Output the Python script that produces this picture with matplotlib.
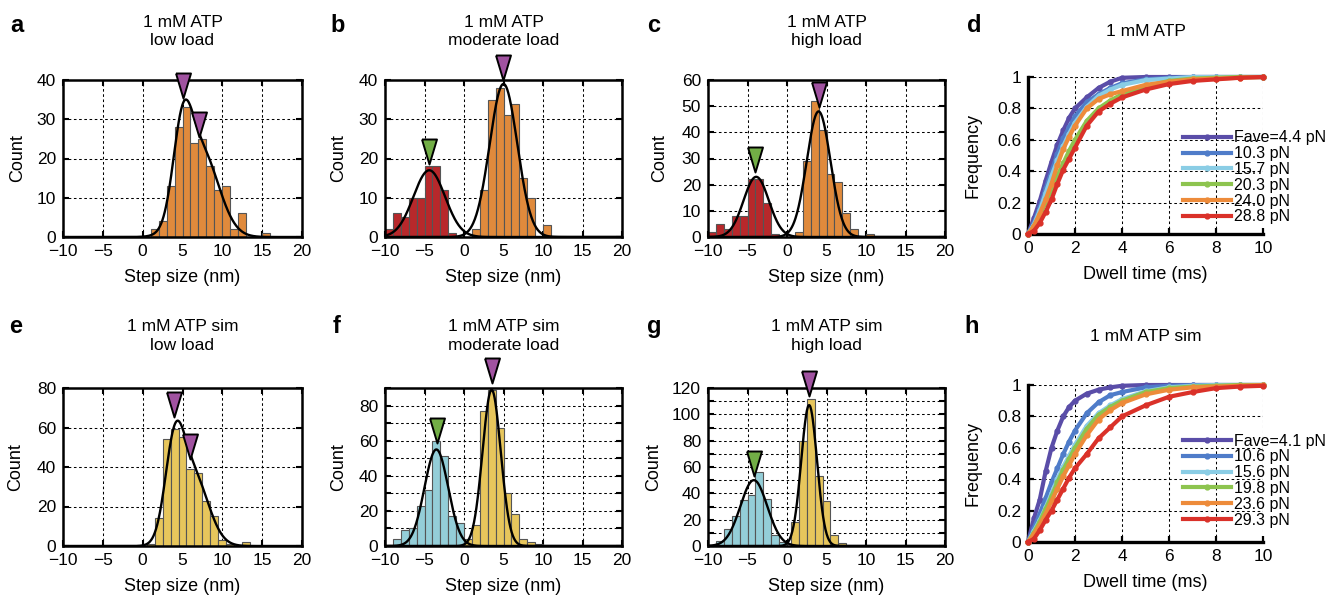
import numpy as np
import matplotlib
matplotlib.use("Agg")
import matplotlib.pyplot as plt
from matplotlib.ticker import MultipleLocator, FuncFormatter

plt.rcParams['font.family'] = ['Liberation Sans', 'DejaVu Sans']

W, H = 1336, 597

# --- Colours ---
ORANGE = '#E08A3C'
RED = '#B8282B'
YELLOW = '#E7C65C'
CYAN = '#94CED8'
PURPLE = '#A052A0'
GREEN = '#72AE46'
cdf_colors = ['#5A4DA8', '#4F7CC9', '#8ACDE5', '#8DC44F', '#ED8B3A', '#DA3129']

# --- Histogram data (bin left edge, count) ---
a_bins = [1, 2, 3, 4, 5, 6, 7, 8, 9, 10, 11, 12, 15]
a_counts = [2, 4, 13, 28, 33, 24, 25, 18, 12, 13, 2, 6, 1]

b_neg_bins = [-10, -9, -8, -7, -6, -5, -4, -3, -2]
b_neg_counts = [2, 6, 5, 10, 10, 18, 18, 12, 1]
b_pos_bins = [1, 2, 3, 4, 5, 6, 7, 8, 10]
b_pos_counts = [2, 12, 35, 38, 31, 34, 15, 10, 3]

c_neg_bins = [-10, -9, -8, -7, -6, -5, -4, -3, -2]
c_neg_counts = [2, 5, 3, 8, 8, 22, 22, 13, 1]
c_pos_bins = [1, 2, 3, 4, 5, 6, 7, 8, 10]
c_pos_counts = [2, 29, 52, 41, 24, 21, 9, 3, 1]

e_bins = [0.5, 1.5, 2.5, 3.5, 4.5, 5.5, 6.5, 7.5, 8.5, 9.5, 10.5, 12.5]
e_counts = [1, 14, 54, 59, 55, 39, 37, 23, 15, 3, 1, 2]

f_neg_bins = [-9, -8, -7, -6, -5, -4, -3, -2, -1]
f_neg_counts = [4, 9, 10, 23, 32, 60, 51, 17, 13]
f_pos_bins = [0, 1, 2, 3, 4, 5, 6, 7, 8, 9]
f_pos_counts = [4, 12, 77, 89, 67, 30, 18, 4, 2, 1]

g_neg_bins = [-10, -9, -8, -7, -6, -5, -4, -3, -2, -1]
g_neg_counts = [1, 4, 13, 23, 35, 39, 56, 36, 8, 3]
g_pos_bins = [0.5, 1.5, 2.5, 3.5, 4.5, 5.5, 6.5]
g_pos_counts = [18, 80, 112, 53, 34, 8, 2]

# --- Gaussian fits (amplitude, mean, sd) ---
a_fit = [(21, 5.0, 1.2), (22, 7.3, 2.2)]          # summed
b_fit = [(17, -4.4, 2.0), (39, 5.0, 1.75)]        # separate
c_fit = [(23, -3.9, 1.6), (48, 4.0, 1.5)]
e_fit = [(44, 4.0, 1.2), (36, 6.3, 1.9)]          # summed
f_fit = [(55, -3.5, 1.5), (89, 3.5, 1.15)]
g_fit = [(50, -4.2, 1.7), (107, 2.8, 1.0)]

# --- Peak markers (x, tip y) ---
a_marks = [(5.0, 35.3, PURPLE), (7.1, 25.4, PURPLE)]
b_marks = [(-4.4, 18.7, GREEN), (4.9, 40.0, PURPLE)]
c_marks = [(-4.0, 24.9, GREEN), (4.1, 49.6, PURPLE)]
e_marks = [(3.9, 65.3, PURPLE), (6.0, 44.0, PURPLE)]
f_marks = [(-3.45, 58.6, GREEN), (3.5, 93.0, PURPLE)]
g_marks = [(-4.2, 53.4, GREEN), (2.75, 113.7, PURPLE)]

# --- Dwell time CDFs ---
dwell_time = [0, 0.25, 0.5, 0.75, 1, 1.25, 1.5, 1.75, 2, 2.5, 3, 3.5, 4, 5, 6, 7, 8, 9, 10]

d_labels = ['Fave=4.4 pN', '10.3 pN', '15.7 pN', '20.3 pN', '24.0 pN', '28.8 pN']
d_f44 = [0, 0.1, 0.21, 0.34, 0.46, 0.57, 0.66, 0.74, 0.8, 0.87, 0.93, 0.97, 0.995, 1, 1, 1, 1, 1, 1]
d_f103 = [0, 0.07, 0.17, 0.29, 0.40, 0.51, 0.61, 0.68, 0.75, 0.84, 0.89, 0.93, 0.96, 0.985, 0.995, 1, 1, 1, 1]
d_f157 = [0, 0.06, 0.15, 0.26, 0.37, 0.47, 0.56, 0.64, 0.71, 0.81, 0.88, 0.92, 0.95, 0.98, 0.99, 1, 1, 1, 1]
d_f203 = [0, 0.05, 0.12, 0.2, 0.28, 0.37, 0.45, 0.53, 0.6, 0.72, 0.8, 0.85, 0.89, 0.94, 0.975, 0.99, 0.995, 1, 1]
d_f240 = [0, 0.05, 0.13, 0.22, 0.32, 0.44, 0.54, 0.62, 0.69, 0.8, 0.86, 0.89, 0.91, 0.95, 0.97, 0.985, 0.99, 0.995, 1]
d_f288 = [0, 0.02, 0.07, 0.14, 0.22, 0.32, 0.41, 0.48, 0.55, 0.69, 0.78, 0.83, 0.87, 0.92, 0.955, 0.975, 0.985, 0.995, 1]

h_labels = ['Fave=4.1 pN', '10.6 pN', '15.6 pN', '19.8 pN', '23.6 pN', '29.3 pN']
h_f41 = [0, 0.15, 0.27, 0.45, 0.6, 0.71, 0.8, 0.86, 0.9, 0.945, 0.97, 0.985, 0.995, 1, 1, 1, 1, 1, 1]
h_f106 = [0, 0.09, 0.18, 0.28, 0.38, 0.47, 0.56, 0.64, 0.71, 0.82, 0.89, 0.935, 0.955, 0.985, 0.995, 1, 1, 1, 1]
h_f156 = [0, 0.07, 0.14, 0.22, 0.31, 0.4, 0.48, 0.55, 0.62, 0.74, 0.82, 0.87, 0.91, 0.96, 0.985, 0.995, 1, 1, 1]
h_f198 = [0, 0.06, 0.13, 0.21, 0.29, 0.38, 0.46, 0.53, 0.6, 0.72, 0.81, 0.86, 0.9, 0.955, 0.98, 0.99, 0.995, 1, 1]
h_f236 = [0, 0.05, 0.11, 0.18, 0.26, 0.34, 0.42, 0.49, 0.56, 0.68, 0.78, 0.84, 0.885, 0.94, 0.97, 0.985, 0.99, 0.995, 1]
h_f293 = [0, 0.02, 0.075, 0.14, 0.2, 0.27, 0.34, 0.41, 0.47, 0.56, 0.66, 0.73, 0.8, 0.87, 0.925, 0.955, 0.98, 0.99, 0.995]

# tall down-pointing triangle, tip at the data point
TRI = [(-0.3, 1.0), (0.3, 1.0), (0.0, 0.0), (-0.3, 1.0)]
GRID = dict(color='black', linestyle=(0, (2.5, 2.5)), linewidth=0.75)

fig = plt.figure(figsize=(W / 100, H / 100), dpi=100)


def px_axes(l, t, r, b):
    return fig.add_axes([l / W, 1 - b / H, (r - l) / W, (b - t) / H])


def gauss(x, amp, mu, sd):
    return amp * np.exp(-(x - mu) ** 2 / (2 * sd ** 2))


def hist_panel(ax, bars, fit, summed, marks, ymax, ystep, lstep, title, ylab_x):
    for bins, counts, col in bars:
        ax.bar(bins, counts, width=1, align='edge', color=col,
               edgecolor='#555555', linewidth=0.8, zorder=2)
    xs = np.linspace(-10, 20, 600)
    if summed:
        ax.plot(xs, sum(gauss(xs, *p) for p in fit), color='black', lw=1.7, zorder=3)
    else:
        for p in fit:
            ax.plot(xs, gauss(xs, *p), color='black', lw=1.7, zorder=3)
    for mx, my, mc in marks:
        ax.plot(mx, my, marker=TRI, markersize=36, color=mc, markeredgecolor='black',
                markeredgewidth=1.4, linestyle='none', clip_on=False, zorder=5)
    ax.set_xlim(-10, 20)
    ax.set_ylim(0, ymax)
    ax.xaxis.set_major_locator(MultipleLocator(5))
    ax.yaxis.set_major_locator(MultipleLocator(ystep))
    ax.yaxis.set_major_formatter(FuncFormatter(
        lambda v, p: f"{v:.0f}" if round(v) % lstep == 0 else ""))
    ax.grid(True, **GRID)
    ax.set_axisbelow(True)
    ax.tick_params(direction='in', top=True, right=True, length=4, width=1.5,
                   labelsize=12.5, pad=5)
    for s in ax.spines.values():
        s.set_linewidth(1.8)
    ax.set_xlabel('Step size (nm)', fontsize=13)
    ax.set_ylabel('Count', fontsize=13)
    ax.xaxis.set_label_coords(0.5, -0.205)
    ax.yaxis.set_label_coords(ylab_x, 0.5)
    ax.text(0.5, title[1], title[0], transform=ax.transAxes, ha='center',
            va='center', fontsize=12.5, linespacing=1.3)


def cdf_panel(ax, curves, labels, title, ty, leg_y):
    lines = []
    for yv, col in zip(curves, cdf_colors):
        ln, = ax.plot(dwell_time, yv, color=col, lw=3.0, marker='o', markersize=3.5,
                      clip_on=False, zorder=3)
        lines.append(ln)
    ax.set_xlim(0, 10)
    ax.set_ylim(0, 1)
    ax.xaxis.set_major_locator(MultipleLocator(2))
    ax.yaxis.set_major_locator(MultipleLocator(0.2))
    ax.yaxis.set_major_formatter(FuncFormatter(lambda v, p: f"{v:g}"))
    ax.grid(True, **GRID)
    ax.set_axisbelow(True)
    ax.spines['top'].set_visible(False)
    ax.spines['right'].set_visible(False)
    ax.spines['left'].set_linewidth(2.4)
    ax.spines['bottom'].set_linewidth(2.4)
    ax.tick_params(direction='in', length=4, width=1.6, labelsize=12.5, pad=5)
    ax.set_xlabel('Dwell time (ms)', fontsize=13)
    ax.set_ylabel('Frequency', fontsize=13)
    ax.xaxis.set_label_coords(0.5, -0.205)
    ax.yaxis.set_label_coords(-0.196, 0.5)
    ax.text(0.5, ty, title, transform=ax.transAxes, ha='center', va='center', fontsize=12.5)
    ax.legend(lines, labels, loc='upper left', bbox_to_anchor=(0.66, leg_y), frameon=False,
              fontsize=11.5, handlelength=3.0, handletextpad=0.2, labelspacing=0.05,
              borderpad=0, borderaxespad=0)


# --- Top row ---
ax_a = px_axes(63, 80, 302, 237)
hist_panel(ax_a, [(a_bins, a_counts, ORANGE)], a_fit, True, a_marks, 40, 10, 10,
           ('1 mM ATP\nlow load', 1.31), -0.155)
ax_b = px_axes(385, 80, 622, 237)
hist_panel(ax_b, [(b_neg_bins, b_neg_counts, RED), (b_pos_bins, b_pos_counts, ORANGE)],
           b_fit, False, b_marks, 40, 10, 10, ('1 mM ATP\nmoderate load', 1.31), -0.16)
ax_c = px_axes(708, 80, 945, 237)
hist_panel(ax_c, [(c_neg_bins, c_neg_counts, RED), (c_pos_bins, c_pos_counts, ORANGE)],
           c_fit, False, c_marks, 60, 10, 10, ('1 mM ATP\nhigh load', 1.31), -0.169)
ax_d = px_axes(1028, 77, 1263, 234)
cdf_panel(ax_d, [d_f44, d_f103, d_f157, d_f203, d_f240, d_f288], d_labels,
          '1 mM ATP', 1.287, 0.66)

# --- Bottom row ---
ax_e = px_axes(63, 388, 302, 546)
hist_panel(ax_e, [(e_bins, e_counts, YELLOW)], e_fit, True, e_marks, 80, 20, 20,
           ('1 mM ATP sim\nlow load', 1.33), -0.163)
ax_f = px_axes(385, 388, 622, 546)
hist_panel(ax_f, [(f_neg_bins, f_neg_counts, CYAN), (f_pos_bins, f_pos_counts, YELLOW)],
           f_fit, False, f_marks, 90, 10, 20, ('1 mM ATP sim\nmoderate load', 1.33), -0.16)
ax_g = px_axes(708, 388, 945, 546)
hist_panel(ax_g, [(g_neg_bins, g_neg_counts, CYAN), (g_pos_bins, g_pos_counts, YELLOW)],
           g_fit, False, g_marks, 120, 10, 20, ('1 mM ATP sim\nhigh load', 1.33), -0.194)
ax_h = px_axes(1028, 385, 1263, 542)
cdf_panel(ax_h, [h_f41, h_f106, h_f156, h_f198, h_f236, h_f293], h_labels,
          '1 mM ATP sim', 1.306, 0.69)

# --- Panel letters ---
letters = ['a', 'b', 'c', 'd', 'e', 'f', 'g', 'h']
letter_x = [17, 338, 654, 974, 16, 337, 654, 972]
letter_y = [32, 32, 32, 32, 333, 333, 333, 333]
for lt, lx, ly in zip(letters, letter_x, letter_y):
    fig.text(lx / W, 1 - ly / H, lt, ha='center', va='baseline', fontsize=17, fontweight='bold')

fig.savefig('out.png', dpi=100)
